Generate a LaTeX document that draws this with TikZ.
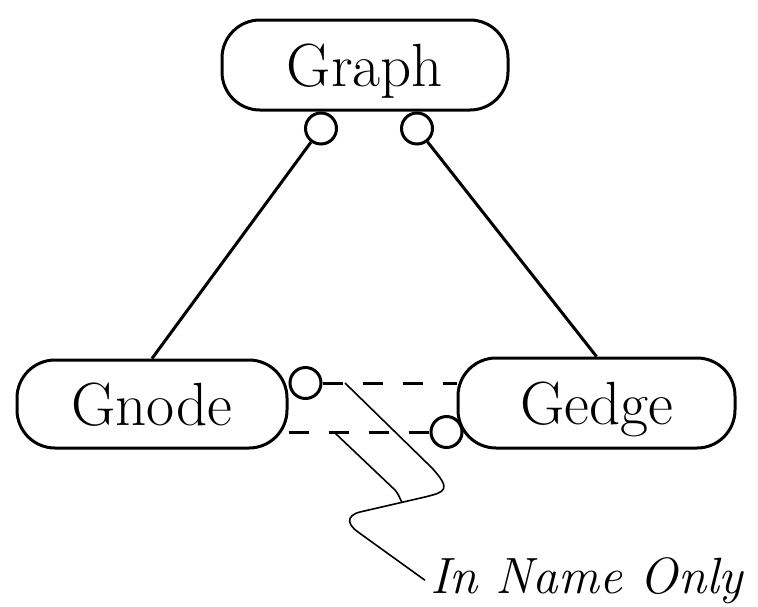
\documentclass[tikz,border=0pt]{standalone}
\usepackage{tikz}
\usetikzlibrary{positioning,calc}

\begin{document}
\begin{tikzpicture}[x=1pt,y=-1pt,line width=3pt,
    entity/.style={draw,rounded corners=38pt,inner sep=0pt,text height=42pt,text depth=0pt,
      font=\fontsize{61}{61}\selectfont},
    port/.style={draw,circle,fill=white,inner sep=0pt,minimum size=31pt},
    namelink/.style={dash pattern=on 20pt off 20pt},
    callout/.style={line width=1.6pt}]
  \useasboundingbox (0,0) rectangle (758,606);
  \node[entity,minimum width=286pt,minimum height=90pt] (graph) at (365,65) {Graph};
  \node[entity,minimum width=270pt,minimum height=88pt] (gnode) at (152,404) {Gnode};
  \node[entity,minimum width=277pt,minimum height=90pt] (gedge) at (596.5,403) {Gedge};
  \node[port,anchor=north] (gpnode) at ([xshift=-44pt]graph.south) {};
  \node[port,anchor=north] (gpedge) at ([xshift=52pt]graph.south) {};
  \node[port,anchor=west] (npedge) at ([yshift=21pt]gnode.east) {};
  \node[port] (epnode) at ([xshift=-10pt,yshift=-29pt]gedge.west) {};
  \draw (gpnode) -- (gnode.north);
  \draw (gpedge) -- (gedge.north);
  \draw[namelink] (npedge.east) -- (npedge.east -| gedge.west);
  \draw[namelink] (gnode.east |- epnode.west) -- (epnode.west);
  \node[anchor=base west,inner sep=4pt,font=\fontsize{51}{51}\selectfont\itshape] (nameonly) at (425,593) {In Name Only};
  \coordinate (ctop) at (345,383);
  \coordinate (cbot) at (335,433);
  \draw[callout] (ctop) -- (432,468) .. controls (452,490) and (445,492) .. (425,497) -- (360,512)
    .. controls (345,516) and (348,525) .. (358,532) -- (nameonly.west);
  \draw[callout] (cbot) -- (395,490) .. controls (400,496) and (400,500) .. (402,502);
\end{tikzpicture}
\end{document}
